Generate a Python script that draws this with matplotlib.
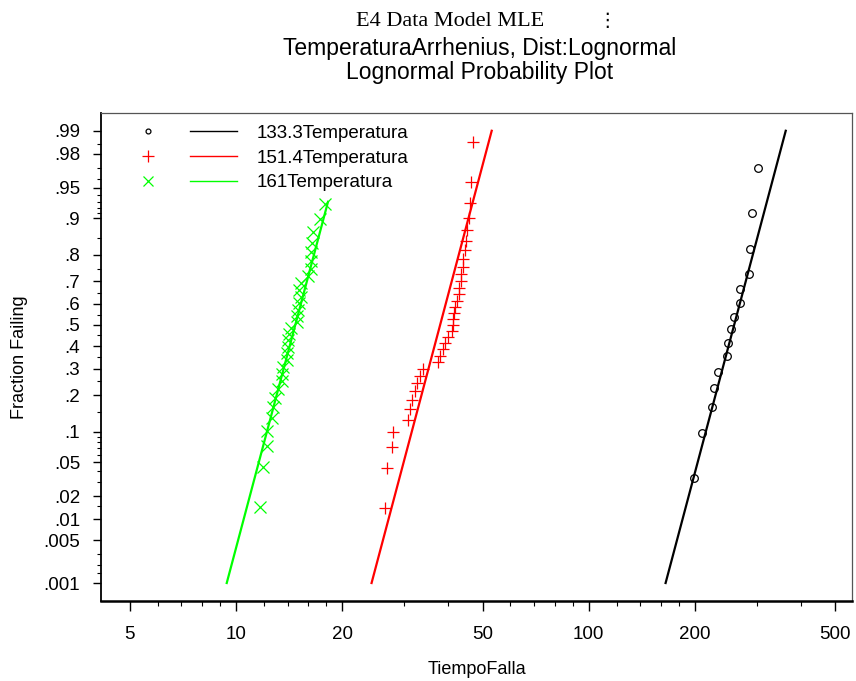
import numpy as np
import matplotlib
matplotlib.use("Agg")
import matplotlib.pyplot as plt
from matplotlib.lines import Line2D
from matplotlib.legend_handler import HandlerTuple
from matplotlib.ticker import FixedLocator, NullFormatter
from statistics import NormalDist

plt.rcParams["font.family"] = ["Liberation Sans", "DejaVu Sans"]

# ---- data ----
series_names = ["133.3Temperatura", "151.4Temperatura", "161Temperatura"]

# 133.3 -> black circles
t_133 = [199.3, 209.1, 224.1, 226.6, 233.1, 246.7, 247.9, 252.7, 258.2,
         268.5, 268.5, 284.9, 286.7, 291.1, 301.5]
p_133 = [0.0332, 0.0973, 0.162, 0.2263, 0.288, 0.354, 0.416, 0.4795, 0.5396,
         0.6053, 0.6655, 0.728, 0.8177, 0.9095, 0.9702]

# 151.4 -> red plus
t_151 = [26.45, 26.74, 27.63, 27.92, 30.79, 31.13, 31.48, 32.17, 32.53, 33.24,
         33.96, 37.39, 37.87, 38.63, 39.14, 39.99, 40.88, 41.10, 41.32, 41.51,
         41.78, 42.42, 42.97, 42.97, 43.37, 43.45, 43.93, 44.10, 44.59, 44.88,
         45.17, 45.86, 46.07, 46.28, 46.90]
p_151 = [0.0143, 0.0429, 0.0714, 0.1000, 0.1286, 0.1571, 0.1857, 0.2143, 0.2429,
         0.2714, 0.3000, 0.3286, 0.3571, 0.3857, 0.4143, 0.4429, 0.4714, 0.5000,
         0.5286, 0.5571, 0.5857, 0.6143, 0.6429, 0.6714, 0.7000, 0.7286, 0.7571,
         0.7857, 0.8143, 0.8429, 0.8714, 0.9000, 0.9286, 0.9571, 0.9857]

# 161 -> green x
t_161 = [11.69, 11.95, 12.22, 12.22, 12.63, 12.76, 12.90, 13.13, 13.50, 13.53,
         13.59, 13.94, 13.96, 14.05, 14.07, 14.14, 14.31, 14.88, 14.90, 14.99,
         15.08, 15.28, 15.08, 15.28, 16.03, 16.30, 16.30, 16.32, 16.45, 16.56,
         17.30, 17.87]
p_161 = [0.0147, 0.0441, 0.0735, 0.1029, 0.1324, 0.1618, 0.1912, 0.2206, 0.2500,
         0.2794, 0.3088, 0.3382, 0.3676, 0.3971, 0.4265, 0.4559, 0.4853, 0.5147,
         0.5441, 0.5735, 0.6029, 0.6324, 0.6618, 0.6912, 0.7206, 0.7500, 0.7794,
         0.8088, 0.8382, 0.8676, 0.8971, 0.9265]

# fitted lognormal lines (median, common log10 sigma) and drawn probability range
fit_median = [258.5, 37.9, 14.72]
fit_sigma10 = 0.0629
line_p_low = [0.001, 0.001, 0.001]
line_p_high = [0.99, 0.99, 0.93]

x_major = [5, 10, 20, 50, 100, 200, 500]
x_minor = [6, 7, 8, 9, 12, 14, 16, 18, 30, 40, 60, 70, 80, 90,
           120, 140, 160, 180, 300, 400]
y_major = [0.001, 0.005, 0.01, 0.02, 0.05, 0.1, 0.2, 0.3, 0.4, 0.5, 0.6,
           0.7, 0.8, 0.9, 0.95, 0.98, 0.99]
y_major_labels = [".001", ".005", ".01", ".02", ".05", ".1", ".2", ".3", ".4",
                  ".5", ".6", ".7", ".8", ".9", ".95", ".98", ".99"]
y_minor = [0.0015, 0.002, 0.003, 0.015, 0.03, 0.04, 0.06, 0.07, 0.08, 0.09,
           0.15, 0.25, 0.35, 0.45, 0.55, 0.65, 0.75, 0.85, 0.91, 0.92, 0.93,
           0.94, 0.96, 0.97, 0.985]

# ---- normal probability scale ----
_nd = NormalDist()
_ppf = np.vectorize(_nd.inv_cdf, otypes=[float])
_cdf = np.vectorize(_nd.cdf, otypes=[float])


def prob_fwd(p):
    p = np.clip(np.asarray(p, dtype=float), 1e-12, 1 - 1e-12)
    return _ppf(p)


def prob_inv(z):
    return _cdf(np.asarray(z, dtype=float))


fig = plt.figure(figsize=(8.56, 6.81), dpi=100)
ax = fig.add_axes([0.118, 0.1175, 0.8773, 0.717])
ax.set_xscale("log")
ax.set_yscale("function", functions=(prob_fwd, prob_inv))

green = "#00ff00"
styles = [
    dict(color="black", marker="o", ms=5.5, mfc="none", mew=0.9),
    dict(color="red", marker="+", ms=9, mew=0.9),
    dict(color=green, marker="x", ms=8, mew=0.9),
]
times = [t_133, t_151, t_161]
probs = [p_133, p_151, p_161]

for i in range(3):
    st = styles[i]
    ax.plot(times[i], probs[i], linestyle="none", marker=st["marker"],
            ms=st["ms"], mfc=st.get("mfc", st["color"]), mec=st["color"],
            mew=st["mew"], zorder=3)
    pl = np.array([line_p_low[i], line_p_high[i]])
    tl = fit_median[i] * 10 ** (fit_sigma10 * prob_fwd(pl))
    ax.plot(tl, pl, color=st["color"], lw=1.6, zorder=2)

ax.set_xlim(4.14, 558)
ax.set_ylim(0.000474, 0.9945)

ax.xaxis.set_major_locator(FixedLocator(x_major))
ax.xaxis.set_minor_locator(FixedLocator(x_minor))
ax.set_xticklabels([str(v) for v in x_major])
ax.xaxis.set_minor_formatter(NullFormatter())
ax.yaxis.set_major_locator(FixedLocator(y_major))
ax.yaxis.set_minor_locator(FixedLocator(y_minor))
ax.set_yticklabels(y_major_labels)
ax.yaxis.set_minor_formatter(NullFormatter())

ax.tick_params(axis="x", which="major", length=7, width=1, pad=11, labelsize=13.5)
ax.tick_params(axis="x", which="minor", length=3.5, width=0.8)
ax.tick_params(axis="y", which="major", length=6, width=1, pad=9, labelsize=13.5)
ax.tick_params(axis="y", which="minor", length=3, width=0.8)

for side in ["top", "right"]:
    ax.spines[side].set_color("#555555")
    ax.spines[side].set_linewidth(0.9)
ax.spines["left"].set_linewidth(1.3)
ax.spines["bottom"].set_linewidth(1.8)

ax.set_xlabel("TiempoFalla", fontsize=13, labelpad=13)
ax.set_ylabel("Fraction Failing", fontsize=13, labelpad=11)

# legend: marker column, line column, text
leg_handles = []
leg_styles = [
    dict(marker="o", ms=3.5, mfc="none", mec="black", color="black"),
    dict(marker="+", ms=8, mfc="red", mec="red", color="red"),
    dict(marker="x", ms=7, mfc=green, mec=green, color=green),
]
for st in leg_styles:
    mk = Line2D([], [], linestyle="none", marker=st["marker"], ms=st["ms"],
                mfc=st["mfc"], mec=st["mec"], mew=0.9)
    ln = Line2D([], [], color=st["color"], lw=1.0)
    leg_handles.append((mk, ln))
ax.legend(leg_handles, series_names, loc="upper left",
          bbox_to_anchor=(0.031, 0.975), borderaxespad=0, borderpad=0,
          frameon=False, fontsize=13.5, handlelength=6.0, handletextpad=1.05,
          labelspacing=0.4,
          handler_map={tuple: HandlerTuple(ndivide=None, pad=1.0)})

# titles
fig.text(450 / 856, 1 - 21 / 681, "E4 Data Model MLE", ha="center", va="center",
         fontsize=16, family=["Liberation Serif", "DejaVu Serif"])
fig.text(607 / 856, 1 - 21 / 681, "\u22ee", ha="center", va="center",
         fontsize=14, family=["DejaVu Sans"])
fig.text(480 / 856, 1 - 49 / 681, "TemperaturaArrhenius, Dist:Lognormal",
         ha="center", va="center", fontsize=16.5)
fig.text(480 / 856, 1 - 73 / 681, "Lognormal Probability Plot",
         ha="center", va="center", fontsize=16.5)

fig.savefig("out.png", dpi=100)
